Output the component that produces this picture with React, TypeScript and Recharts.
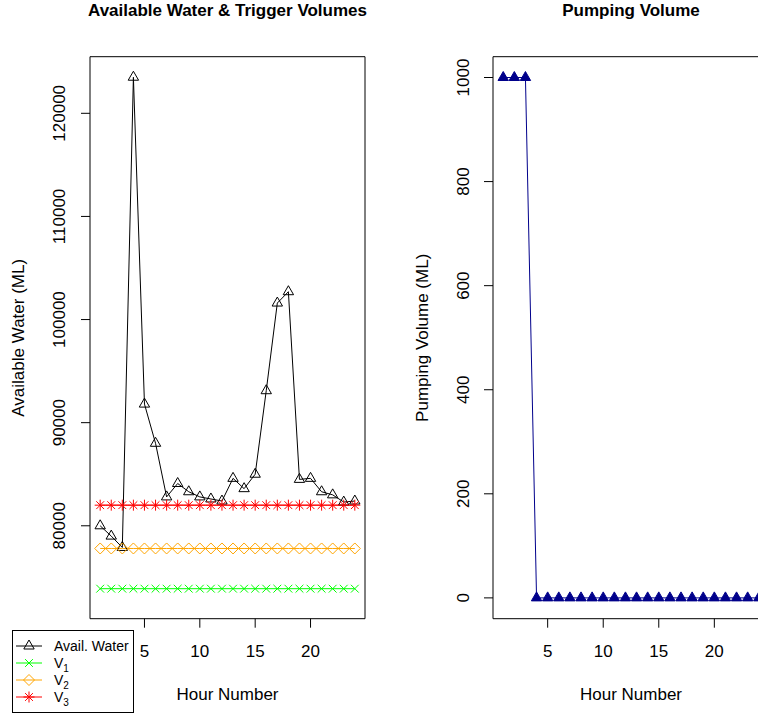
import React from 'react';
import { LineChart, Line, XAxis, YAxis, Legend, ReferenceArea } from 'recharts';

// hourly series
const hours = [1, 2, 3, 4, 5, 6, 7, 8, 9, 10, 11, 12, 13, 14, 15, 16, 17, 18, 19, 20, 21, 22, 23, 24];
const availWater = [
  80000, 79000, 77900, 123500, 91800, 88000, 82800, 84100, 83300, 82800, 82600, 82400,
  84600, 83600, 85000, 93100, 101600, 102700, 84500, 84600, 83300, 83000, 82300, 82400,
];
const v1 = [
  73900, 73900, 73900, 73900, 73900, 73900, 73900, 73900, 73900, 73900, 73900, 73900,
  73900, 73900, 73900, 73900, 73900, 73900, 73900, 73900, 73900, 73900, 73900, 73900,
];
const v2 = [
  77800, 77800, 77800, 77800, 77800, 77800, 77800, 77800, 77800, 77800, 77800, 77800,
  77800, 77800, 77800, 77800, 77800, 77800, 77800, 77800, 77800, 77800, 77800, 77800,
];
const v3 = [
  82000, 82000, 82000, 82000, 82000, 82000, 82000, 82000, 82000, 82000, 82000, 82000,
  82000, 82000, 82000, 82000, 82000, 82000, 82000, 82000, 82000, 82000, 82000, 82000,
];
const pumping = [1000, 1000, 1000, 0, 0, 0, 0, 0, 0, 0, 0, 0, 0, 0, 0, 0, 0, 0, 0, 0, 0, 0, 0, 0];

const hourTicks = [5, 10, 15, 20];
const waterTicks = [80000, 90000, 100000, 110000, 120000];
const pumpTicks = [0, 200, 400, 600, 800, 1000];

const waterData = hours.map((h, i) => ({ hour: h, avail: availWater[i], v1: v1[i], v2: v2[i], v3: v3[i] }));
const pumpData = hours.map((h, i) => ({ hour: h, pump: pumping[i] }));

const FONT = '"Liberation Sans", Arial, Helvetica, sans-serif';
const X_DOMAIN: [number, number] = [0.08, 24.92];
const WATER_DOMAIN: [number, number] = [70990, 125490];
const PUMP_DOMAIN: [number, number] = [-40, 1040];

const COLORS = {
  avail: '#000000',
  v1: '#00ff00',
  v2: '#ffa500',
  v3: '#ff0000',
  pump: '#00008b',
};

type Shape = 'triangle' | 'filledTriangle' | 'cross' | 'diamond' | 'star';

// plotting symbols, sized like base graphics at cex = 1
function Marker({ shape, x, y, color }: { shape: Shape; x: number; y: number; color: string }) {
  if (shape === 'triangle' || shape === 'filledTriangle') {
    const r = 6;
    const xc = r * 0.866;
    const yc = r / 2;
    return (
      <polygon
        points={`${x},${y - r} ${x + xc},${y + yc} ${x - xc},${y + yc}`}
        fill={shape === 'filledTriangle' ? color : 'none'}
        stroke={color}
        strokeWidth={1}
      />
    );
  }
  if (shape === 'cross') {
    const c = 3.9;
    return (
      <g stroke={color} strokeWidth={1}>
        <line x1={x - c} y1={y - c} x2={x + c} y2={y + c} />
        <line x1={x - c} y1={y + c} x2={x + c} y2={y - c} />
      </g>
    );
  }
  if (shape === 'diamond') {
    const d = 5.5;
    return (
      <polygon
        points={`${x},${y - d} ${x + d},${y} ${x},${y + d} ${x - d},${y}`}
        fill="none"
        stroke={color}
        strokeWidth={1}
      />
    );
  }
  const c = 3.9;
  const p = 5.5;
  return (
    <g stroke={color} strokeWidth={1}>
      <line x1={x - c} y1={y - c} x2={x + c} y2={y + c} />
      <line x1={x - c} y1={y + c} x2={x + c} y2={y - c} />
      <line x1={x - p} y1={y} x2={x + p} y2={y} />
      <line x1={x} y1={y - p} x2={x} y2={y + p} />
    </g>
  );
}

const dotOf = (shape: Shape, color: string) => (props: any) => {
  const { cx, cy, index } = props;
  if (cx == null || cy == null) return <g key={`${shape}-${index}`} />;
  return (
    <g key={`${shape}-${index}`}>
      <Marker shape={shape} x={cx} y={cy} color={color} />
    </g>
  );
};

const legendItems: { label: string; sub: string; shape: Shape; color: string }[] = [
  { label: 'Avail. Water', sub: '', shape: 'triangle', color: COLORS.avail },
  { label: 'V', sub: '1', shape: 'cross', color: COLORS.v1 },
  { label: 'V', sub: '2', shape: 'diamond', color: COLORS.v2 },
  { label: 'V', sub: '3', shape: 'star', color: COLORS.v3 },
];

function LegendBox() {
  return (
    <div style={{ border: '1px solid #000', background: '#fff', width: 120, height: 81 }}>
      <svg width={120} height={81} style={{ display: 'block', fontFamily: FONT }}>
        {legendItems.map((it, i) => {
          const y = 15 + i * 17;
          return (
            <g key={it.label + it.sub}>
              <line x1={3} x2={29} y1={y} y2={y} stroke={it.color} strokeWidth={1} />
              <Marker shape={it.shape} x={16} y={y} color={it.color} />
              <text x={41} y={y + 5} fontSize={14} fill="#000">
                {it.label}
                {it.sub && (
                  <tspan dy={4} fontSize={10}>
                    {it.sub}
                  </tspan>
                )}
              </text>
            </g>
          );
        })}
      </svg>
    </div>
  );
}

const xTick = (props: any) => {
  const { x, payload } = props;
  return (
    <text x={x} y={656.5} textAnchor="middle" fontSize={17} fontFamily={FONT} fill="#000">
      {payload.value}
    </text>
  );
};

const yTick = (baseX: number) => (props: any) => {
  const { y, payload } = props;
  return (
    <text
      x={baseX}
      y={y}
      transform={`rotate(-90, ${baseX}, ${y})`}
      textAnchor="middle"
      fontSize={17}
      fontFamily={FONT}
      fill="#000"
    >
      {payload.value}
    </text>
  );
};

const axisTitle = (text: string, x: number, y: number, rotate: boolean) => () => (
  <text
    x={x}
    y={y}
    transform={rotate ? `rotate(-90, ${x}, ${y})` : undefined}
    textAnchor="middle"
    fontSize={17}
    fontFamily={FONT}
    fill="#000"
  >
    {text}
  </text>
);

export default function App() {
  return (
    <div
      style={{
        position: 'fixed',
        left: 0,
        top: 0,
        width: 758,
        height: 713,
        overflow: 'hidden',
        background: '#fff',
        fontFamily: FONT,
      }}
    >
      <svg width={758} height={713} style={{ position: 'absolute', left: 0, top: 0 }}>
        <text x={227.5} y={16} textAnchor="middle" fontSize={17} fontWeight="bold" fontFamily={FONT}>
          Available Water &amp; Trigger Volumes
        </text>
        <text x={631} y={16} textAnchor="middle" fontSize={17} fontWeight="bold" fontFamily={FONT}>
          Pumping Volume
        </text>
      </svg>

      {/* left panel: available water against trigger levels */}
      <div style={{ position: 'absolute', left: 0, top: 0 }}>
        <LineChart width={380} height={713} data={waterData} margin={{ top: 56.7, right: 15, bottom: 0, left: 0 }}>
          <XAxis
            dataKey="hour"
            type="number"
            domain={X_DOMAIN}
            ticks={hourTicks}
            interval={0}
            allowDataOverflow
            axisLine={false}
            tickLine={{ stroke: '#000' }}
            tickSize={9}
            tick={xTick}
            height={94.3}
            label={{ content: axisTitle('Hour Number', 227.5, 700, false) }}
          />
          <YAxis
            type="number"
            domain={WATER_DOMAIN}
            ticks={waterTicks}
            interval={0}
            allowDataOverflow
            axisLine={false}
            tickLine={{ stroke: '#000' }}
            tickSize={9}
            tick={yTick(65)}
            width={90}
            label={{ content: axisTitle('Available Water (ML)', 24.5, 337.8, true) }}
          />
          <ReferenceArea
            x1={X_DOMAIN[0]}
            x2={X_DOMAIN[1]}
            y1={WATER_DOMAIN[0]}
            y2={WATER_DOMAIN[1]}
            fill="none"
            stroke="#000"
            strokeWidth={1}
            ifOverflow="visible"
          />
          <Line
            dataKey="avail"
            name="Avail. Water"
            stroke={COLORS.avail}
            strokeWidth={1}
            dot={dotOf('triangle', COLORS.avail)}
            activeDot={false}
            isAnimationActive={false}
          />
          <Line
            dataKey="v1"
            name="V1"
            stroke={COLORS.v1}
            strokeWidth={1}
            dot={dotOf('cross', COLORS.v1)}
            activeDot={false}
            isAnimationActive={false}
          />
          <Line
            dataKey="v2"
            name="V2"
            stroke={COLORS.v2}
            strokeWidth={1}
            dot={dotOf('diamond', COLORS.v2)}
            activeDot={false}
            isAnimationActive={false}
          />
          <Line
            dataKey="v3"
            name="V3"
            stroke={COLORS.v3}
            strokeWidth={1}
            dot={dotOf('star', COLORS.v3)}
            activeDot={false}
            isAnimationActive={false}
          />
          <Legend
            layout="vertical"
            align="center"
            verticalAlign="middle"
            wrapperStyle={{ left: 12, top: 629.5, width: 122, height: 83 }}
            content={<LegendBox />}
          />
        </LineChart>
      </div>

      {/* right panel: pumping volume */}
      <div style={{ position: 'absolute', left: 400, top: 0 }}>
        <LineChart width={400} height={713} data={pumpData} margin={{ top: 56.7, right: 31, bottom: 0, left: 0 }}>
          <XAxis
            dataKey="hour"
            type="number"
            domain={X_DOMAIN}
            ticks={hourTicks}
            interval={0}
            allowDataOverflow
            axisLine={false}
            tickLine={{ stroke: '#000' }}
            tickSize={9}
            tick={xTick}
            height={94.3}
            label={{ content: axisTitle('Hour Number', 231, 700, false) }}
          />
          <YAxis
            type="number"
            domain={PUMP_DOMAIN}
            ticks={pumpTicks}
            interval={0}
            allowDataOverflow
            axisLine={false}
            tickLine={{ stroke: '#000' }}
            tickSize={9}
            tick={yTick(69.5)}
            width={93}
            label={{ content: axisTitle('Pumping Volume (ML)', 28.5, 337.8, true) }}
          />
          <ReferenceArea
            x1={X_DOMAIN[0]}
            x2={X_DOMAIN[1]}
            y1={PUMP_DOMAIN[0]}
            y2={PUMP_DOMAIN[1]}
            fill="none"
            stroke="#000"
            strokeWidth={1}
            ifOverflow="visible"
          />
          <Line
            dataKey="pump"
            name="Pumping"
            stroke={COLORS.pump}
            strokeWidth={1}
            dot={dotOf('filledTriangle', COLORS.pump)}
            activeDot={false}
            isAnimationActive={false}
          />
        </LineChart>
      </div>
    </div>
  );
}
